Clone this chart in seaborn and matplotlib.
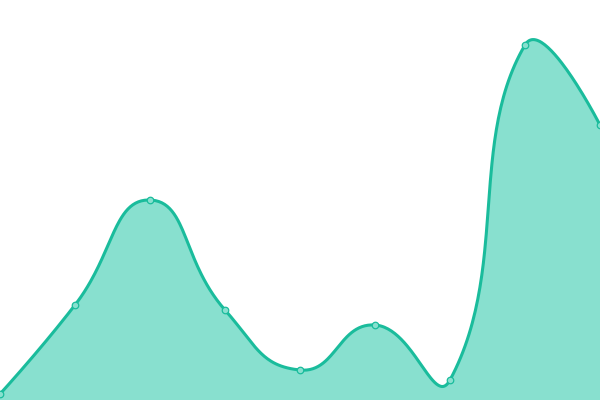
import numpy as np
import pandas as pd
import matplotlib
matplotlib.use("Agg")
import matplotlib.pyplot as plt
import seaborn as sns

# data (no axes shown)
categories = [0, 1, 2, 3, 4, 5, 6, 7, 8]
values = [6, 95, 200, 90, 30, 75, 20, 355, 275]

LINE = "#1abc9c"
FILL = "#88e0cf"


def smooth_curve(xs, ys, smooth=0.5, xscale=75.0, n=60):
    # bezier path through the points, control points scaled by neighbour distances
    pts = np.column_stack([np.asarray(xs, float) * xscale, np.asarray(ys, float)])
    m = len(pts)
    cin = pts.copy()
    cout = pts.copy()
    for i in range(1, m - 1):
        v = pts[i + 1] - pts[i - 1]
        d0 = np.hypot(*(pts[i] - pts[i - 1]))
        d1 = np.hypot(*(pts[i + 1] - pts[i]))
        s = d0 + d1
        cin[i] = pts[i] - v * smooth * d0 / s
        cout[i] = pts[i] + v * smooth * d1 / s
    out = []
    t = np.linspace(0, 1, n)[:, None]
    for i in range(m - 1):
        p1, c1, c2, p2 = pts[i], cout[i], cin[i + 1], pts[i + 1]
        seg = (1 - t) ** 3 * p1 + 3 * (1 - t) ** 2 * t * c1 + 3 * (1 - t) * t ** 2 * c2 + t ** 3 * p2
        out.append(seg if i == 0 else seg[1:])
    seg = np.vstack(out)
    return seg[:, 0] / xscale, seg[:, 1]


sns.set_style("white")
fig = plt.figure(figsize=(6, 4), dpi=100)
ax = fig.add_axes([0, 0, 1, 1])

sx, sy = smooth_curve(categories, values)
curve = pd.DataFrame({"x": sx, "y": sy})
ax.fill_between(sx, sy, 0, color=FILL, lw=0)
sns.lineplot(data=curve, x="x", y="y", ax=ax, color=LINE, lw=2.2, sort=False)

df = pd.DataFrame({"x": categories, "y": values})
sns.scatterplot(data=df, x="x", y="y", ax=ax, s=22, color=FILL,
                edgecolor=LINE, linewidth=0.9, zorder=5, clip_on=True)

ax.set_xlim(0, 8)
ax.set_ylim(0, 400)
ax.set_axis_off()

fig.savefig("out.png", dpi=100)
